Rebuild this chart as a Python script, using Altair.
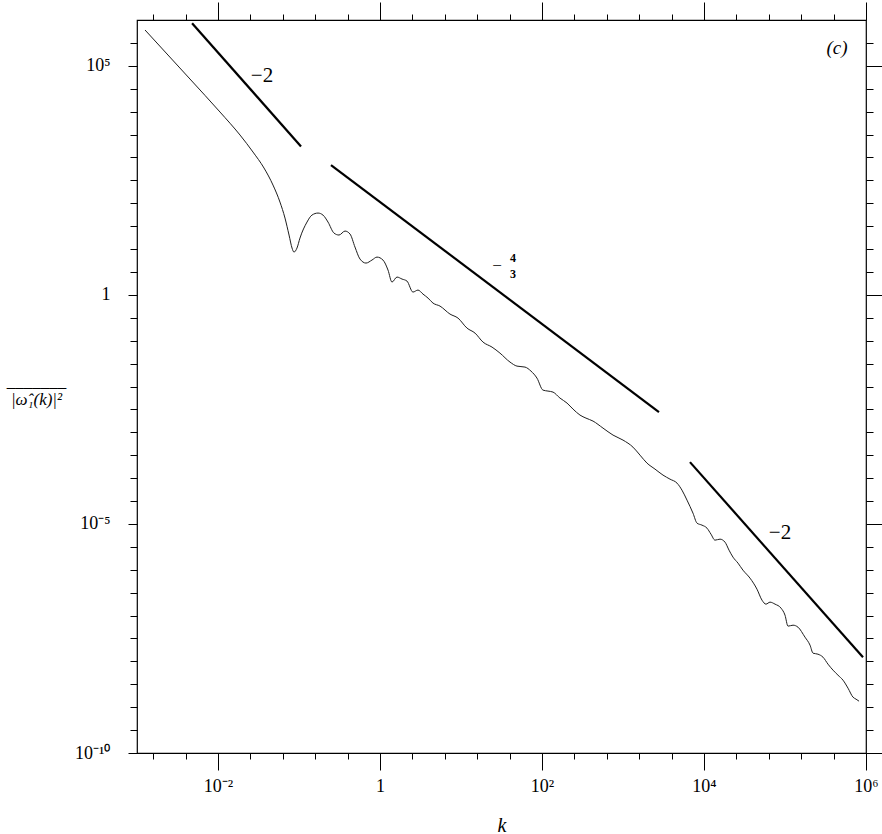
import altair as alt
import pandas as pd

# ---- spectrum curve: log10 k and log10 |w1(k)|^2
curve_logk = [-2.901, -2.346, -1.975, -1.728, -1.568, -1.432, -1.321, -1.235, -1.173, -1.123,
              -1.086, -1.062, -1.025, -0.988, -0.901, -0.840, -0.765, -0.704, -0.642, -0.568,
              -0.506, -0.432, -0.370, -0.309, -0.247, -0.173, -0.099, -0.037, 0.037, 0.099,
              0.148, 0.210, 0.272, 0.333, 0.407, 0.469, 0.531, 0.593, 0.654, 0.741,
              0.864, 0.963, 1.074, 1.173, 1.272, 1.383, 1.481, 1.605, 1.691, 1.790,
              1.864, 1.938, 2.012, 2.074, 2.136, 2.222, 2.309, 2.383, 2.469, 2.543,
              2.630, 2.753, 2.877, 3.000, 3.123, 3.210, 3.296, 3.395, 3.494, 3.580,
              3.667, 3.728, 3.790, 3.864, 3.914, 3.975, 4.037, 4.086, 4.136, 4.198,
              4.259, 4.309, 4.358, 4.420, 4.481, 4.568, 4.654, 4.716, 4.765, 4.815,
              4.877, 4.951, 5.000, 5.037, 5.099, 5.160, 5.247, 5.309, 5.346, 5.407,
              5.469, 5.531, 5.593, 5.654, 5.716, 5.778, 5.840, 5.877, 5.914]
curve_logE = [5.782, 4.712, 3.991, 3.489, 3.118, 2.769, 2.397, 2.026, 1.677, 1.306,
              1.022, 0.934, 1.022, 1.240, 1.590, 1.742, 1.786, 1.742, 1.590, 1.349,
              1.306, 1.393, 1.328, 1.044, 0.782, 0.694, 0.760, 0.825, 0.760, 0.541,
              0.279, 0.389, 0.345, 0.301, 0.061, 0.105, 0.017, -0.070, -0.179, -0.245,
              -0.419, -0.507, -0.725, -0.834, -1.031, -1.140, -1.271, -1.467, -1.555, -1.576,
              -1.664, -1.817, -2.079, -2.100, -2.122, -2.253, -2.362, -2.493, -2.624, -2.690,
              -2.755, -2.908, -3.061, -3.170, -3.323, -3.498, -3.672, -3.803, -3.934, -4.022,
              -4.109, -4.262, -4.480, -4.764, -4.983, -5.026, -5.092, -5.223, -5.354, -5.332,
              -5.397, -5.572, -5.725, -5.856, -6.009, -6.183, -6.424, -6.664, -6.751, -6.707,
              -6.751, -6.838, -6.991, -7.231, -7.210, -7.253, -7.472, -7.646, -7.821, -7.843,
              -7.908, -8.061, -8.192, -8.301, -8.410, -8.585, -8.782, -8.825, -8.869]

# ---- reference slope segments
seg_name = ["a", "a", "b", "b", "c", "c"]
seg_logk = [-2.32, -0.975, -0.605, 3.444, 3.827, 5.963]
seg_logE = [5.93, 3.24, 2.834, -2.559, -3.651, -7.908]

# ---- annotations
slope_text = ["\u22122", "\u22122"]
slope_logk = [-1.457, 4.938]
slope_logE = [4.777, -5.20]
minus_text = ["\u2212"]
minus_logk = [1.445]
minus_logE = [0.629]
frac_text = ["4", "3"]
frac_logk = [1.642, 1.642]
frac_logE = [0.80, 0.465]
panel_text = ["(c)"]
panel_logk = [5.642]
panel_logE = [5.389]

# ---- axes ticks
x_major_exp = [-2, 0, 2, 4, 6]
x_major_lab = ["10\u207b\u00b2", "1", "10\u00b2", "10\u2074", "10\u2076"]
x_minor_exp = [-2.8, -2.4, -1.6, -1.2, -0.8, -0.4, 0.4, 0.8, 1.2, 1.6, 2.4, 2.8, 3.2, 3.6,
               4.4, 4.8, 5.2, 5.6]
y_major_exp = [-10, -5, 0, 5]
y_major_lab = ["10\u207b\u00b9\u2070", "10\u207b\u2075", "1", "10\u2075"]
y_minor_exp = [e / 2 for e in range(-19, 12) if e % 10 != 0]

x_major = [10.0 ** e for e in x_major_exp]
x_minor = [10.0 ** e for e in x_minor_exp]
y_major = [10.0 ** e for e in y_major_exp]
y_minor = [10.0 ** e for e in y_minor_exp]

# y title: overline (row of underscores) above |w^_1(k)|^2
y_title = ["_______", "|\u03c9\u0302\u2081(k)|\u00b2"]


def label_expr(exps, labs):
    expr = "''"
    for e, l in zip(exps, labs):
        expr = f"round(log(datum.value)/LN10) == {e} ? '{l}' : ({expr})"
    return expr


FONT = "Liberation Serif"
xscale = alt.Scale(type="log", domain=[1e-3, 1e6], nice=False)
yscale = alt.Scale(type="log", domain=[1e-10, 1e6], nice=False)


def df(logk, logE, **extra):
    d = pd.DataFrame({"k": [10.0 ** v for v in logk], "E": [10.0 ** v for v in logE]})
    for key, val in extra.items():
        d[key] = val
    return d


common_axis = dict(grid=False, domain=False, tickColor="black", tickWidth=1,
                   labelFont=FONT, labelFontSize=18, labelColor="black")

curve = alt.Chart(df(curve_logk, curve_logE)).mark_line(
    color="#1e1e1e", strokeWidth=1, clip=True, interpolate="monotone"
).encode(
    x=alt.X("k:Q", scale=xscale, axis=alt.Axis(
        orient="bottom", values=x_major, tickSize=17, labelPadding=7,
        labelExpr=label_expr(x_major_exp, x_major_lab), labelFlush=False,
        title="k", titleFont=FONT, titleFontStyle="italic", titleFontWeight="normal",
        titleFontSize=20, titleY=72, titleBaseline="middle", titleColor="black",
        **common_axis)),
    y=alt.Y("E:Q", scale=yscale, axis=alt.Axis(
        orient="left", values=y_major, tickSize=9, labelPadding=18,
        labelExpr=label_expr(y_major_exp, y_major_lab), labelFlush=False,
        title=y_title, titleFont=FONT,
        titleFontStyle="italic", titleFontWeight="normal", titleFontSize=17,
        titleLineHeight=18, titleAngle=0, titleAlign="center", titleBaseline="middle",
        titleX=-101, titleY=361, titleColor="black",
        **common_axis)),
)

segs = alt.Chart(df(seg_logk, seg_logE, seg=seg_name)).mark_line(
    color="black", strokeWidth=2.2
).encode(
    x=alt.X("k:Q", scale=xscale, axis=alt.Axis(
        orient="bottom", values=x_minor, tickSize=6, labels=False, title=None,
        **common_axis)),
    y=alt.Y("E:Q", scale=yscale, axis=alt.Axis(
        orient="left", values=y_minor, tickSize=7, labels=False, title=None,
        **common_axis)),
    detail="seg:N",
)

slopes = alt.Chart(df(slope_logk, slope_logE, t=slope_text)).mark_text(
    font=FONT, fontSize=21, color="black"
).encode(
    x=alt.X("k:Q", scale=xscale, axis=alt.Axis(
        orient="top", values=x_major, tickSize=18, labels=False, title=None,
        **common_axis)),
    y=alt.Y("E:Q", scale=yscale, axis=alt.Axis(
        orient="right", values=y_major, tickSize=16, labels=False, title=None,
        **common_axis)),
    text="t:N",
)

panel = alt.Chart(df(panel_logk, panel_logE, t=panel_text)).mark_text(
    font=FONT, fontSize=19, fontStyle="italic", color="black"
).encode(
    x=alt.X("k:Q", scale=xscale, axis=alt.Axis(
        orient="top", values=x_minor, tickSize=6, labels=False, title=None,
        **common_axis)),
    y=alt.Y("E:Q", scale=yscale, axis=alt.Axis(
        orient="right", values=y_minor, tickSize=7, labels=False, title=None,
        **common_axis)),
    text="t:N",
)

minus = alt.Chart(df(minus_logk, minus_logE, t=minus_text)).mark_text(
    font=FONT, fontSize=17, color="black"
).encode(
    x=alt.X("k:Q", scale=xscale, axis=None),
    y=alt.Y("E:Q", scale=yscale, axis=None),
    text="t:N",
)

frac = alt.Chart(df(frac_logk, frac_logE, t=frac_text)).mark_text(
    font=FONT, fontSize=12, fontWeight="bold", color="black"
).encode(
    x=alt.X("k:Q", scale=xscale, axis=None),
    y=alt.Y("E:Q", scale=yscale, axis=None),
    text="t:N",
)

chart = alt.layer(curve, segs, slopes, panel, minus, frac).resolve_axis(
    x="independent", y="independent"
).properties(
    width=729, height=733,
    autosize=alt.AutoSizeParams(type="none"),
    padding={"left": 137, "top": 20, "right": 16, "bottom": 81},
    background="white",
).configure_view(stroke="black", strokeWidth=1.2)

chart.save("out.html", embed_options={"renderer": "svg", "actions": False})
